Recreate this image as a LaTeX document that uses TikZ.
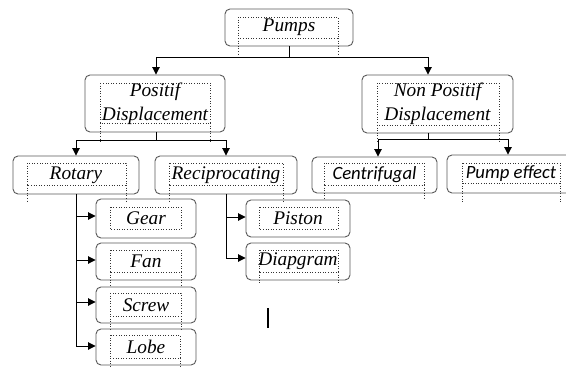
\documentclass[tikz,border=0pt]{standalone}
\usepackage{fontspec}
\setmainfont{Liberation Serif}
\newfontfamily\sansfam{Carlito}
\usetikzlibrary{arrows.meta}
\tikzset{
  obox/.style={draw=black!65, line width=0.9pt, rounded corners=5pt, inner sep=0pt,
    font=\fontsize{19.3}{24}\selectfont\itshape, align=center},
  sfont/.style={font=\fontsize{18.7}{22}\sansfam\itshape},
  sbox/.style={obox, sfont},
  dotbox/.style={draw=black!80, dotted, line width=0.6pt},
  conn/.style={draw=black, line width=0.9pt},
  arr/.style={conn, -{Triangle[length=7.5pt,width=7.5pt]}}
}
\begin{document}
\begin{tikzpicture}[x=1pt,y=-1pt]
\useasboundingbox (0,0) rectangle (566,367);
\clip (0,0) rectangle (566,367);
% boxes
\node[obox, minimum width=128, minimum height=37] (pumps) at (289,27.5) {Pumps};
\node[obox, minimum width=140, minimum height=57] (pd) at (155,103.5) {Positif\\Displacement};
\node[obox, minimum width=151, minimum height=58] (npd) at (437.5,104) {Non Positif\\Displacement};
\node[obox, minimum width=126, minimum height=38] (rot) at (76,175) {Rotary};
\node[obox, minimum width=142, minimum height=38] (rec) at (226,175) {Reciprocating};
\node[sbox, minimum width=125, minimum height=36] (cen) at (374.5,175) {Centrifugal};
\node[obox, minimum width=173, minimum height=38, draw=none] (pe) at (533.5,174) {};
\draw[obox] (620,155) -| (447,193) -- (620,193);
\node[sfont, inner sep=0pt] (petext) at (511,173.5) {Pump effect};
\node[obox, minimum width=100, minimum height=39] (gear) at (146,218.5) {Gear};
\node[obox, minimum width=100, minimum height=37] (fan) at (146,261.5) {Fan};
\node[obox, minimum width=100, minimum height=36] (screw) at (146,305) {Screw};
\node[obox, minimum width=100, minimum height=36] (lobe) at (146,347) {Lobe};
\node[obox, minimum width=104, minimum height=37] (piston) at (298,218.5) {Piston};
\node[obox, minimum width=104, minimum height=37] (diap) at (298,261.5) {Diapgram};
% dotted inner frames
\draw[dotbox] (238,17) rectangle (338,38) (238,38)--(238,55) (338,38)--(338,55);
\draw[dotbox] (100,83) rectangle (210,123) (100,123)--(100,143) (210,123)--(210,143);
\draw[dotbox] (377,83) rectangle (499,125) (377,125)--(377,142) (499,125)--(499,142);
\draw[dotbox] (27,163) rectangle (126,185) (27,185)--(27,202) (126,185)--(126,202);
\draw[dotbox] (169,163) rectangle (283,185) (169,185)--(169,202) (283,185)--(283,202);
\draw[dotbox] (324,163) rectangle (424,185) (324,185)--(324,199) (424,185)--(424,199);
\draw[dotbox] (462,163) rectangle (560,183) (462,183)--(462,202) (560,183)--(560,202);
\draw[dotbox] (110,207) rectangle (181,229);
\draw[dotbox] (110,250) rectangle (181,272) (110,272)--(110,287) (181,272)--(181,287);
\draw[dotbox] (110,293) rectangle (181,316) (110,316)--(110,330) (181,316)--(181,330);
\draw[dotbox] (110,335) rectangle (180,358) (110,358)--(110,367) (180,358)--(180,367);
\draw[dotbox] (259,207) rectangle (338,229);
\draw[dotbox] (259,250) rectangle (338,272) (259,272)--(259,283) (338,272)--(338,283);
% connectors
\coordinate (j0) at (289,57);
\coordinate (jl) at (156,57);
\coordinate (jr) at (428,57);
\draw[conn] (pumps.south) -- (j0);
\draw[conn] (jl) -- (jr);
\draw[arr] (jl) -- (jl |- pd.north);
\draw[arr] (jr) -- (jr |- npd.north);
\coordinate (p0) at (156,140);
\coordinate (pl) at (76,140);
\coordinate (pr) at (226,140);
\draw[conn] (p0 |- pd.south) -- (p0);
\draw[conn] (pl) -- (pr);
\draw[arr] (pl) -- (rot.north);
\draw[arr] (pr) -- (rec.north);
\coordinate (n0) at (428,139);
\coordinate (nl) at (378,139);
\coordinate (nr) at (508,139);
\draw[conn] (n0 |- npd.south) -- (n0);
\draw[conn] (nl) -- (nr);
\draw[arr] (nl) -- (nl |- cen.north);
\draw[arr] (nr) -- (nr |- pe.north);
\draw[conn] (rot.south) -- (76,346);
\draw[arr] (76,216) -- (gear.west |- 0,216);
\draw[arr] (76,260) -- (fan.west |- 0,260);
\draw[arr] (76,302) -- (screw.west |- 0,302);
\draw[arr] (76,346) -- (lobe.west |- 0,346);
\draw[conn] (rec.south) -- (226,258);
\draw[arr] (226,217) -- (piston.west |- 0,217);
\draw[arr] (226,258) -- (diap.west |- 0,258);
% stray mark
\draw[line width=1.6pt] (268,308) -- (268,328);
\end{tikzpicture}
\end{document}
